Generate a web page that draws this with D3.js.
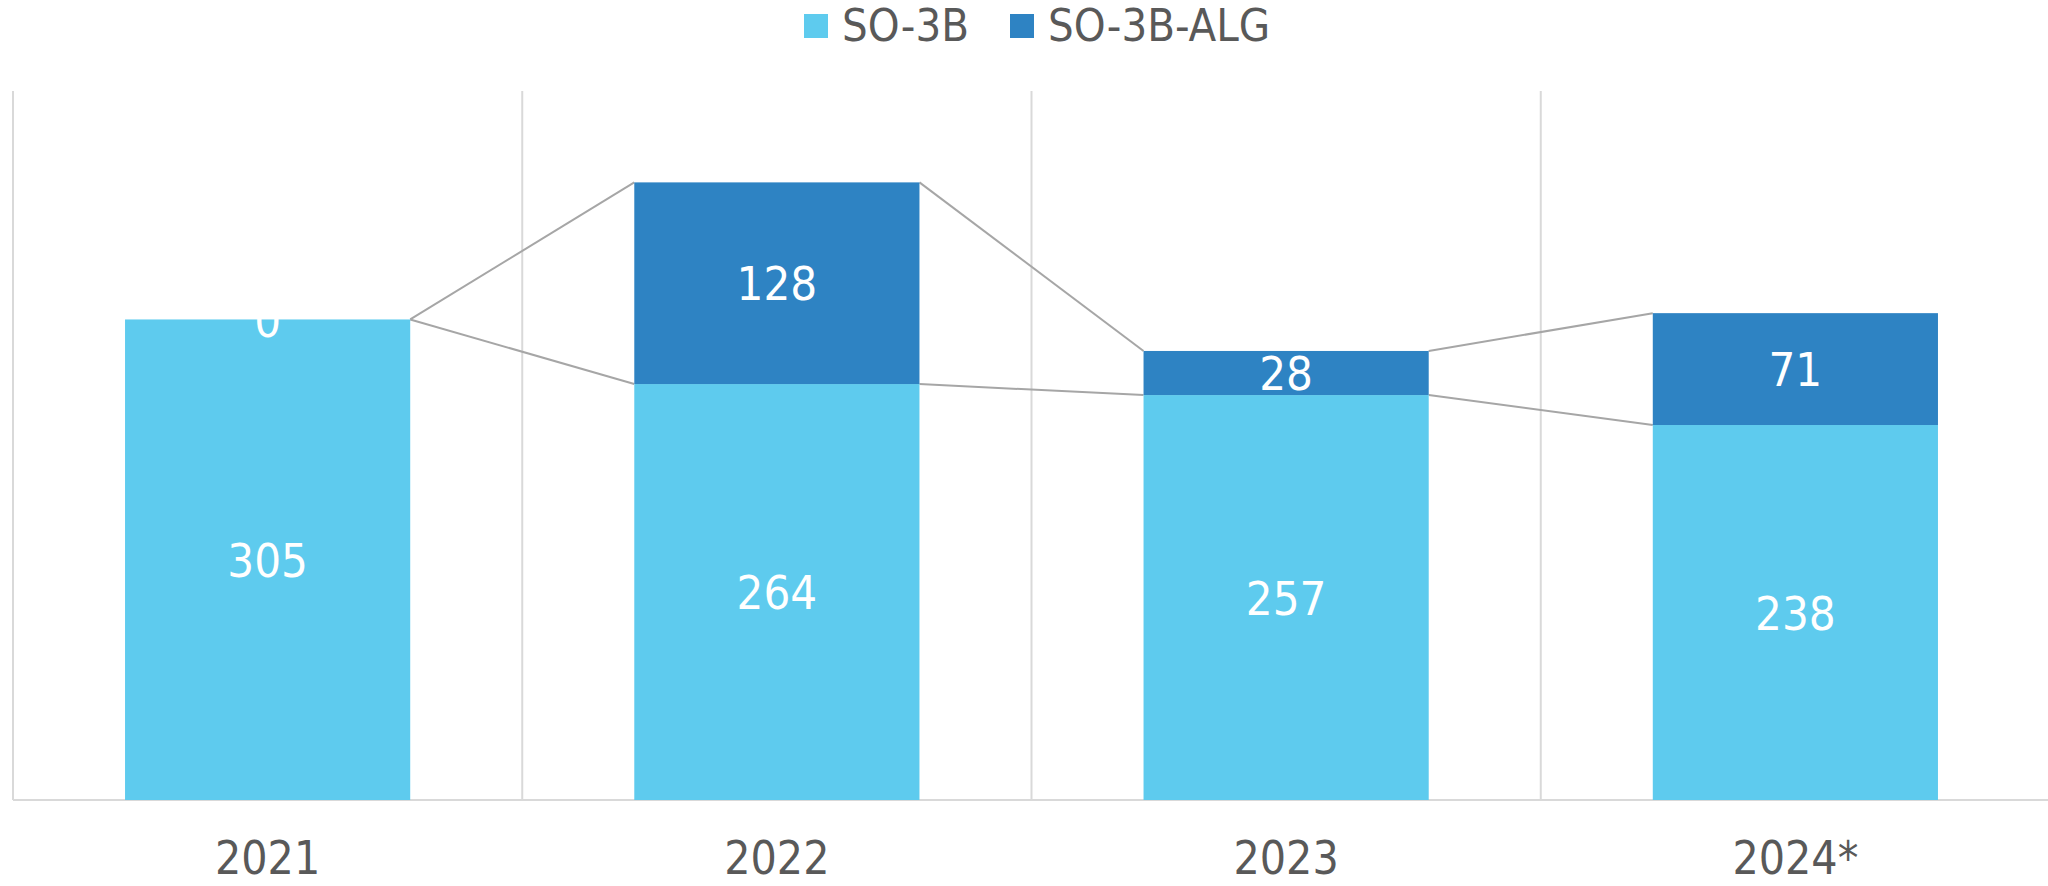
<!DOCTYPE html>
<html>
<head>
<meta charset="utf-8">
<script src="https://cdn.jsdelivr.net/npm/d3@7"></script>
<style>
  html, body { margin: 0; padding: 0; background: #ffffff; }
  svg { display: block; }
  text { font-family: "DejaVu Sans Condensed", "DejaVu Sans", sans-serif; }
</style>
</head>
<body>
<svg id="chart" width="2048" height="886"></svg>
<script>
const categories = ["2021", "2022", "2023", "2024*"];
const seriesNames = ["SO-3B", "SO-3B-ALG"];
const so3b = [305, 264, 257, 238];
const so3bAlg = [0, 128, 28, 71];
const yMax = 450;
const colors = ["#5ecbee", "#2e83c3"];

const W = 2048, H = 886;
const plot = { left: 13, right: 2050, top: 91, bottom: 800 };

const svg = d3.select("#chart");

const x = d3.scaleBand().domain(categories).range([plot.left, plot.right]).padding(0);
const y = d3.scaleLinear().domain([0, yMax]).range([plot.bottom, plot.top]);
const barW = x.bandwidth() * 0.56;
const barX = c => x(c) + (x.bandwidth() - barW) / 2;

// stacked data
const rows = categories.map((c, i) => ({ cat: c, "SO-3B": so3b[i], "SO-3B-ALG": so3bAlg[i] }));
const stack = d3.stack().keys(seriesNames)(rows);

// vertical gridlines at category boundaries
const bounds = categories.map(c => x(c)).concat([x(categories[categories.length - 1]) + x.bandwidth()]);
svg.append("g").selectAll("line").data(bounds).join("line")
  .attr("x1", d => d).attr("x2", d => d)
  .attr("y1", y(yMax)).attr("y2", y(0))
  .attr("stroke", "#d9d9d9").attr("stroke-width", 2);

// baseline
svg.append("line")
  .attr("x1", plot.left).attr("x2", plot.right)
  .attr("y1", y(0)).attr("y2", y(0))
  .attr("stroke", "#d9d9d9").attr("stroke-width", 2);

// series lines
const sl = svg.append("g");
stack.forEach(s => {
  for (let i = 0; i < categories.length - 1; i++) {
    sl.append("line")
      .attr("x1", barX(categories[i]) + barW)
      .attr("y1", y(s[i][1]))
      .attr("x2", barX(categories[i + 1]))
      .attr("y2", y(s[i + 1][1]))
      .attr("stroke", "#a6a6a6").attr("stroke-width", 2);
  }
});

// bars
stack.forEach((s, k) => {
  svg.append("g").selectAll("rect").data(s).join("rect")
    .attr("x", d => barX(d.data.cat))
    .attr("width", barW)
    .attr("y", d => y(d[1]))
    .attr("height", d => y(d[0]) - y(d[1]))
    .attr("fill", colors[k]);
});

// data labels
const labelSize = 47;
stack.forEach((s, k) => {
  svg.append("g").selectAll("text").data(s).join("text")
    .attr("x", d => barX(d.data.cat) + barW / 2)
    .attr("y", d => (y(d[0]) + y(d[1])) / 2 + labelSize * 0.729 / 2)
    .attr("text-anchor", "middle")
    .attr("font-size", labelSize)
    .attr("fill", "#ffffff")
    .text(d => d[1] - d[0]);
});

// category axis labels
svg.append("g").selectAll("text").data(categories).join("text")
  .attr("x", c => x(c) + x.bandwidth() / 2)
  .attr("y", 874)
  .attr("text-anchor", "middle")
  .attr("font-size", 46)
  .attr("fill", "#595959")
  .text(c => c);

// legend
const legendX = [804, 1010];
const lg = svg.append("g");
seriesNames.forEach((n, k) => {
  lg.append("rect").attr("x", legendX[k]).attr("y", 14).attr("width", 24).attr("height", 24).attr("fill", colors[k]);
  lg.append("text").attr("x", legendX[k] + 38).attr("y", 41)
    .attr("font-size", 45).attr("fill", "#595959").text(n);
});
</script>
</body>
</html>
